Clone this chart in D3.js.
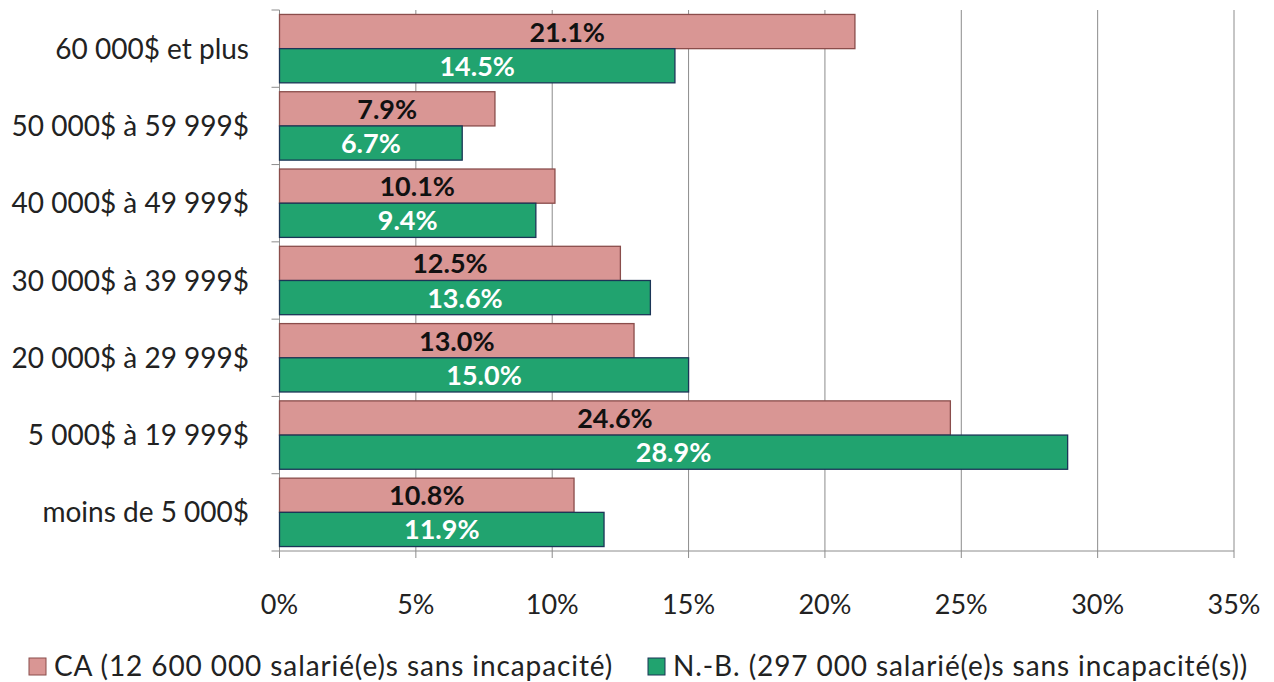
<!DOCTYPE html>
<html>
<head>
<meta charset="utf-8">
<script src="https://cdn.jsdelivr.net/npm/d3@7"></script>
<style>
  body { margin: 0; background: #fff; }
  svg text { font-family: "Lato", "Open Sans", sans-serif; }
</style>
</head>
<body>
<div id="chart"></div>
<script>
// data, top category first
let categories = [ '60 000$ et plus', '50 000$ à 59 999$', '40 000$ à 49 999$',
                   '30 000$ à 39 999$', '20 000$ à 29 999$', '5 000$ à 19 999$',
                   'moins de 5 000$' ];
let ca_values = [ 21.1, 7.9, 10.1, 12.5, 13.0, 24.6, 10.8 ];
let nb_values = [ 14.5, 6.7, 9.4, 13.6, 15.0, 28.9, 11.9 ];
let series_names = [ 'CA (12 600 000 salarié(e)s sans incapacité)',
                     'N.-B. (297 000 salarié(e)s sans incapacité(s))' ];
let x_ticks = [ 0, 5, 10, 15, 20, 25, 30, 35 ];

let width = 1274, height = 682;
let plot_left = 279.5, plot_right = 1234, plot_top = 10, plot_bottom = 551;

let fills = [ '#d99694', '#21a36f' ];
let strokes = [ '#8a4d4b', '#1b3557' ];
let label_cols = [ '#111', '#fff' ];

let svg = d3.select('#chart').append('svg')
            .attr('width', width)
            .attr('height', height);

let x_scale = d3.scaleLinear().domain([ 0, 35 ]).range([ plot_left, plot_right ]);
let y_scale = d3.scaleBand().domain(categories).range([ plot_top, plot_bottom ]);
let inner = d3.scaleBand().domain([ 0, 1 ]).range([ 0, y_scale.bandwidth() ])
              .paddingOuter(0.13).paddingInner(0);

// gridlines (extend a bit below axis as tick marks)
svg.append('g')
   .selectAll('line')
   .data(x_ticks)
   .enter()
   .append('line')
   .attr('x1', d => x_scale(d)).attr('x2', d => x_scale(d))
   .attr('y1', plot_top).attr('y2', plot_bottom + 7)
   .attr('stroke', '#8c8c8c')
   .attr('stroke-width', 1);

// bottom axis line
svg.append('line')
   .attr('x1', plot_left).attr('x2', plot_right)
   .attr('y1', plot_bottom).attr('y2', plot_bottom)
   .attr('stroke', '#8c8c8c');

// left axis with boundary ticks
let bounds = d3.range(categories.length + 1).map(i => plot_top + i * y_scale.step());
svg.append('line')
   .attr('x1', plot_left).attr('x2', plot_left)
   .attr('y1', plot_top).attr('y2', plot_bottom)
   .attr('stroke', '#8c8c8c');
svg.append('g')
   .selectAll('line')
   .data(bounds)
   .enter()
   .append('line')
   .attr('x1', plot_left - 8).attr('x2', plot_left)
   .attr('y1', d => d).attr('y2', d => d)
   .attr('stroke', '#8c8c8c');

// x tick labels
svg.append('g')
   .selectAll('text')
   .data(x_ticks)
   .enter()
   .append('text')
   .attr('x', d => x_scale(d))
   .attr('y', 614)
   .attr('text-anchor', 'middle')
   .attr('font-size', 27)
   .attr('fill', '#222')
   .text(d => d + '%');

// category labels
svg.append('g')
   .selectAll('text')
   .data(categories)
   .enter()
   .append('text')
   .attr('x', 249)
   .attr('y', d => y_scale(d) + y_scale.bandwidth() / 2 + 10)
   .attr('text-anchor', 'end')
   .attr('font-size', 28)
   .attr('fill', '#222')
   .text(d => d);

// bars
let all_series = [ ca_values, nb_values ];
all_series.forEach(function(vals, s) {
    let g = svg.append('g');
    g.selectAll('rect')
     .data(vals)
     .enter()
     .append('rect')
     .attr('x', x_scale(0))
     .attr('y', (d, i) => y_scale(categories[i]) + inner(s))
     .attr('width', d => x_scale(d) - x_scale(0))
     .attr('height', inner.bandwidth())
     .attr('fill', fills[s])
     .attr('stroke', strokes[s])
     .attr('stroke-width', 1.3);

    g.selectAll('text')
     .data(vals)
     .enter()
     .append('text')
     .attr('x', d => (x_scale(0) + x_scale(d)) / 2)
     .attr('y', (d, i) => y_scale(categories[i]) + inner(s) + inner.bandwidth() / 2 + 10)
     .attr('text-anchor', 'middle')
     .attr('font-size', 27)
     .attr('font-weight', 'bold')
     .attr('fill', label_cols[s])
     .text(d => d.toFixed(1) + '%');
});

// legend
let legend_x = [ 29, 648 ];
series_names.forEach(function(name, s) {
    svg.append('rect')
       .attr('x', legend_x[s]).attr('y', 658)
       .attr('width', 17).attr('height', 17)
       .attr('fill', fills[s])
       .attr('stroke', strokes[s]);
    svg.append('text')
       .attr('x', legend_x[s] + 25)
       .attr('y', 676)
       .attr('font-size', 28)
       .attr('letter-spacing', 0.9)
       .attr('fill', '#222')
       .text(name);
});
</script>
</body>
</html>
